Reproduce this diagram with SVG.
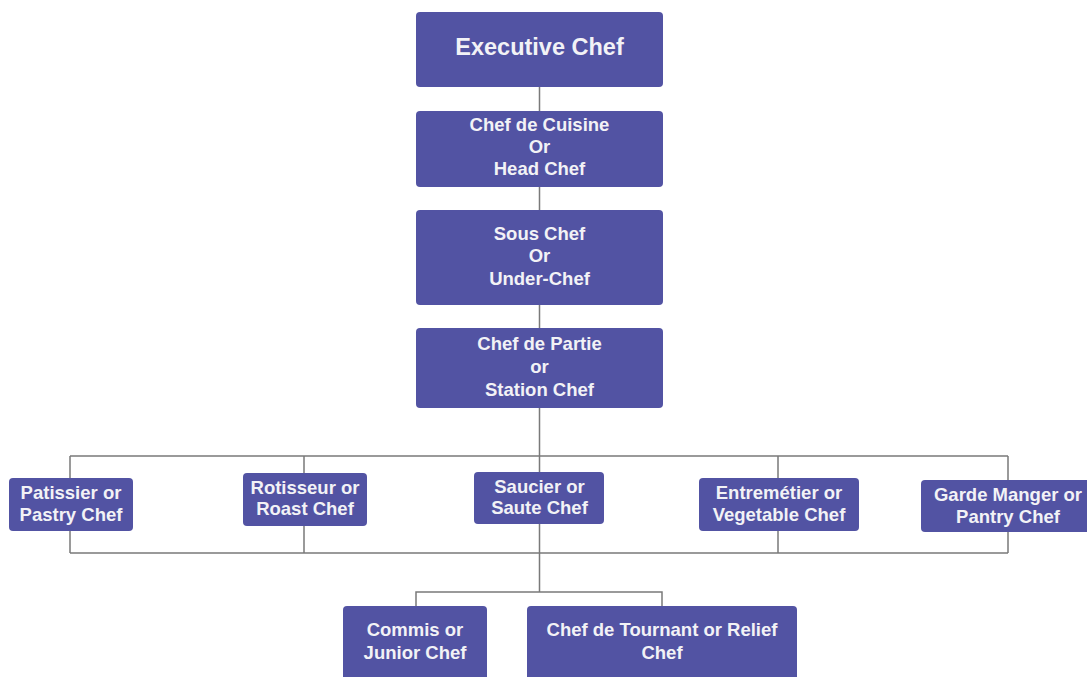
<svg xmlns="http://www.w3.org/2000/svg" width="1087" height="677" viewBox="0 0 1087 677">
<style>
.box{fill:#5253a3;}
.t{font-family:"Liberation Sans",Arial,sans-serif;font-weight:bold;font-size:18.5px;fill:#f2f2f6;text-anchor:middle;}
.big{font-size:23.5px;}
.ln{stroke:#7a7a7a;stroke-width:1.5;fill:none;}
</style>
<rect width="1087" height="677" fill="#ffffff"/>
<g id="connectors">
<path class="ln" d="M539.5 87 V592"/>
<path class="ln" d="M70 456 H1008 M70 553 H1008 M70 456 V553 M304 456 V553 M778 456 V553 M1008 456 V553"/>
<path class="ln" d="M416 606 V592 H662 V606"/>
</g>
<g id="executive-chef"><rect class="box" x="416" y="12" width="247" height="75" rx="4"/><text class="t big" x="539.5" y="55">Executive Chef</text></g>
<g id="chef-de-cuisine"><rect class="box" x="416" y="111" width="247" height="76" rx="4"/><text class="t" x="539.5" y="131">Chef de Cuisine</text><text class="t" x="539.5" y="153">Or</text><text class="t" x="539.5" y="175">Head Chef</text></g>
<g id="sous-chef"><rect class="box" x="416" y="210" width="247" height="95" rx="4"/><text class="t" x="539.5" y="240">Sous Chef</text><text class="t" x="539.5" y="262">Or</text><text class="t" x="539.5" y="285">Under-Chef</text></g>
<g id="chef-de-partie"><rect class="box" x="416" y="328" width="247" height="80" rx="4"/><text class="t" x="539.5" y="350">Chef de Partie</text><text class="t" x="539.5" y="373">or</text><text class="t" x="539.5" y="396">Station Chef</text></g>
<g id="patissier"><rect class="box" x="9" y="478" width="124" height="53" rx="4"/><text class="t" x="71" y="499">Patissier or</text><text class="t" x="71" y="521">Pastry Chef</text></g>
<g id="rotisseur"><rect class="box" x="243" y="473" width="124" height="53" rx="4"/><text class="t" x="305" y="494">Rotisseur or</text><text class="t" x="305" y="515">Roast Chef</text></g>
<g id="saucier"><rect class="box" x="474" y="472" width="130" height="52" rx="4"/><text class="t" x="539.5" y="493">Saucier or</text><text class="t" x="539.5" y="514">Saute Chef</text></g>
<g id="entremetier"><rect class="box" x="699" y="478" width="160" height="53" rx="4"/><text class="t" x="779" y="499">Entremétier or</text><text class="t" x="779" y="521">Vegetable Chef</text></g>
<g id="garde-manger"><rect class="box" x="921" y="480" width="174" height="52" rx="4"/><text class="t" x="1008" y="501">Garde Manger or</text><text class="t" x="1008" y="523">Pantry Chef</text></g>
<g id="commis"><rect class="box" x="343" y="606" width="144" height="80" rx="4"/><text class="t" x="415" y="636">Commis or</text><text class="t" x="415" y="659">Junior Chef</text></g>
<g id="chef-de-tournant"><rect class="box" x="527" y="606" width="270" height="80" rx="4"/><text class="t" x="662" y="636">Chef de Tournant or Relief</text><text class="t" x="662" y="659">Chef</text></g>
</svg>
